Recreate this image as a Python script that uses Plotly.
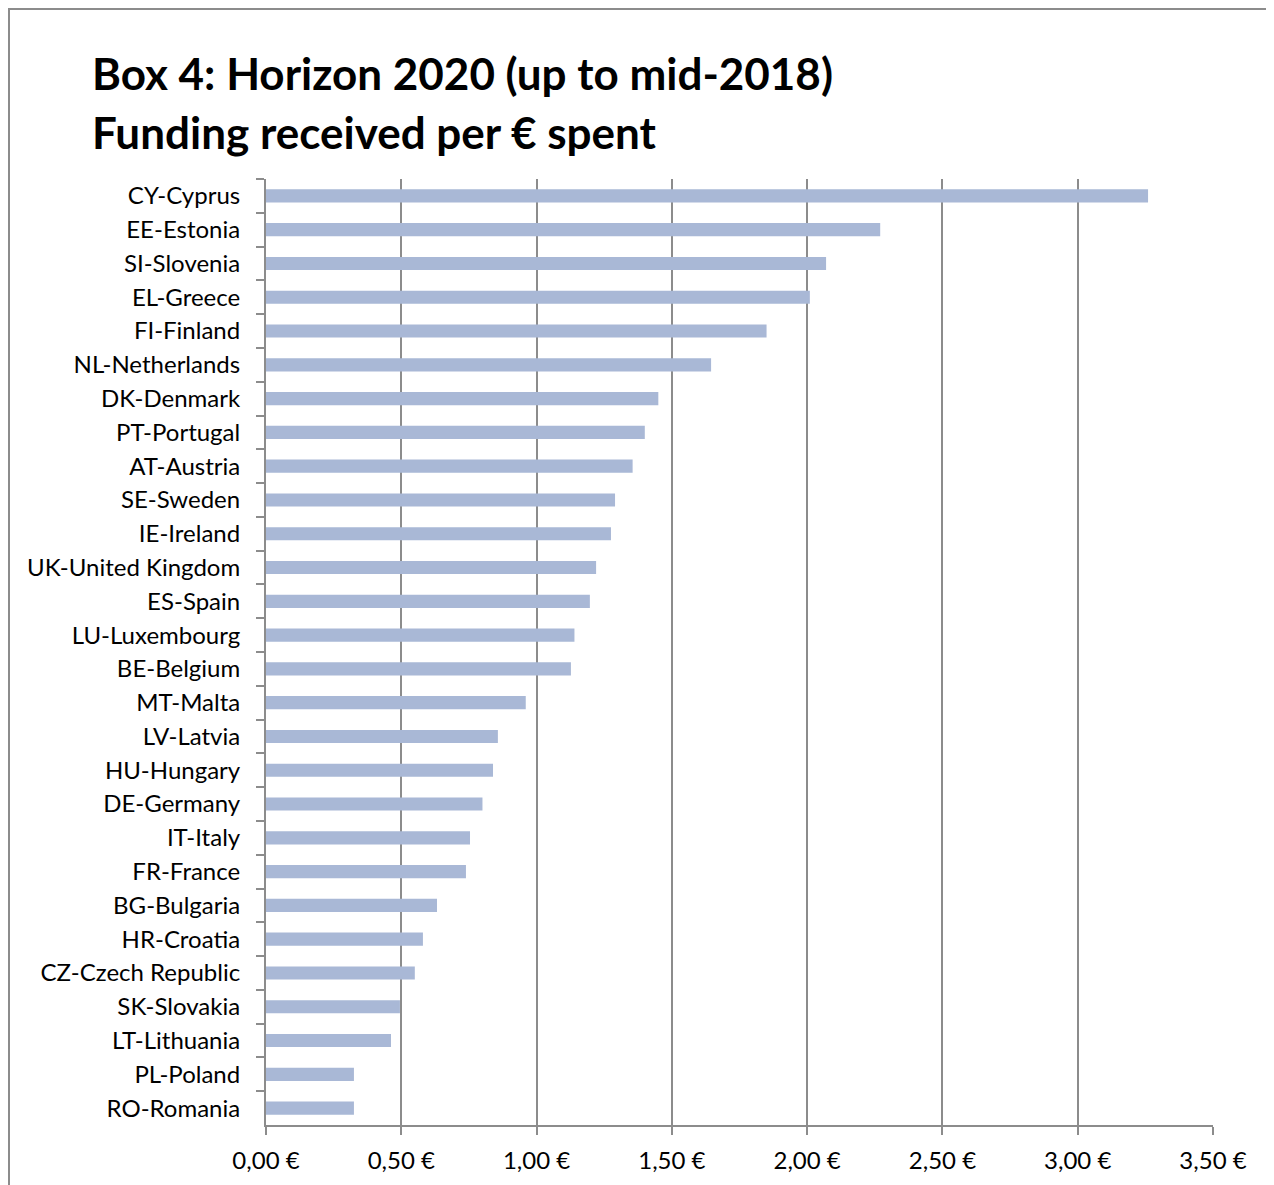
import plotly.graph_objects as go

countries = ["CY-Cyprus", "EE-Estonia", "SI-Slovenia", "EL-Greece", "FI-Finland",
             "NL-Netherlands", "DK-Denmark", "PT-Portugal", "AT-Austria", "SE-Sweden",
             "IE-Ireland", "UK-United Kingdom", "ES-Spain", "LU-Luxembourg", "BE-Belgium",
             "MT-Malta", "LV-Latvia", "HU-Hungary", "DE-Germany", "IT-Italy",
             "FR-France", "BG-Bulgaria", "HR-Croatia", "CZ-Czech Republic", "SK-Slovakia",
             "LT-Lithuania", "PL-Poland", "RO-Romania"]
values = [3.26, 2.27, 2.07, 2.01, 1.85,
          1.645, 1.45, 1.40, 1.355, 1.29,
          1.275, 1.22, 1.197, 1.14, 1.127,
          0.96, 0.857, 0.839, 0.80, 0.754,
          0.739, 0.632, 0.58, 0.55, 0.495,
          0.462, 0.325, 0.325]
tick_vals = [0, 0.5, 1.0, 1.5, 2.0, 2.5, 3.0, 3.5]
tick_text = ["0,00 €", "0,50 €", "1,00 €", "1,50 €", "2,00 €", "2,50 €", "3,00 €", "3,50 €"]
title_lines = ["Box 4: Horizon 2020 (up to mid-2018)", "Funding received per € spent"]

OFF = 8  # page offset of the figure in the screenshot
W, H = 1274, 1185
L, R, T, B = 266 - OFF, 1213 - OFF, 179 - OFF, 1125 - OFF
pw, ph = R - L, B - T

def px(x):
    return (x - OFF - L) / pw

def py(y):
    return (B - (y - OFF)) / ph

grey = "#8C8C8C"
font_main = "Lato, Carlito, Calibri, sans-serif"

fig = go.Figure()
fig.add_trace(go.Bar(
    x=values, y=countries, orientation="h",
    marker=dict(color="#A9B8D6", line=dict(width=0)),
    hoverinfo="x+y",
))

fig.update_layout(
    width=W, height=H,
    margin=dict(l=L, r=W - R, t=T, b=H - B, pad=0),
    paper_bgcolor="white", plot_bgcolor="white",
    bargap=0.61,
    showlegend=False,
    font=dict(family=font_main, size=24, color="#000000"),
)
fig.update_xaxes(
    range=[0, 3.5], tickvals=tick_vals, ticktext=tick_text,
    showgrid=True, gridcolor=grey, gridwidth=2,
    showline=True, linecolor=grey, linewidth=2,
    ticks="outside", ticklen=8, tickcolor=grey, tickwidth=2,
    zeroline=False, tickfont=dict(size=24, family=font_main),
    ticklabelstandoff=5,
)
fig.update_yaxes(
    autorange="reversed", type="category",
    showgrid=False, showline=True, linecolor=grey, linewidth=2,
    ticks="outside", ticklen=8, tickcolor=grey, tickwidth=2,
    tickson="boundaries", tickfont=dict(size=24, family=font_main),
    ticklabelstandoff=19,
)

# outer border
fig.add_shape(type="rect", xref="paper", yref="paper",
              x0=px(9), x1=px(1300), y0=py(1210), y1=py(9),
              line=dict(color=grey, width=2), fillcolor="rgba(0,0,0,0)", layer="below")

for i, line in enumerate(title_lines):
    fig.add_annotation(
        text="<b>%s</b>" % line, xref="paper", yref="paper",
        x=px(90), y=py(73 + 59 * i), xanchor="left", yanchor="middle",
        showarrow=False, font=dict(size=44, family=font_main, color="#000000"),
    )

fig.write_html("out.html")
